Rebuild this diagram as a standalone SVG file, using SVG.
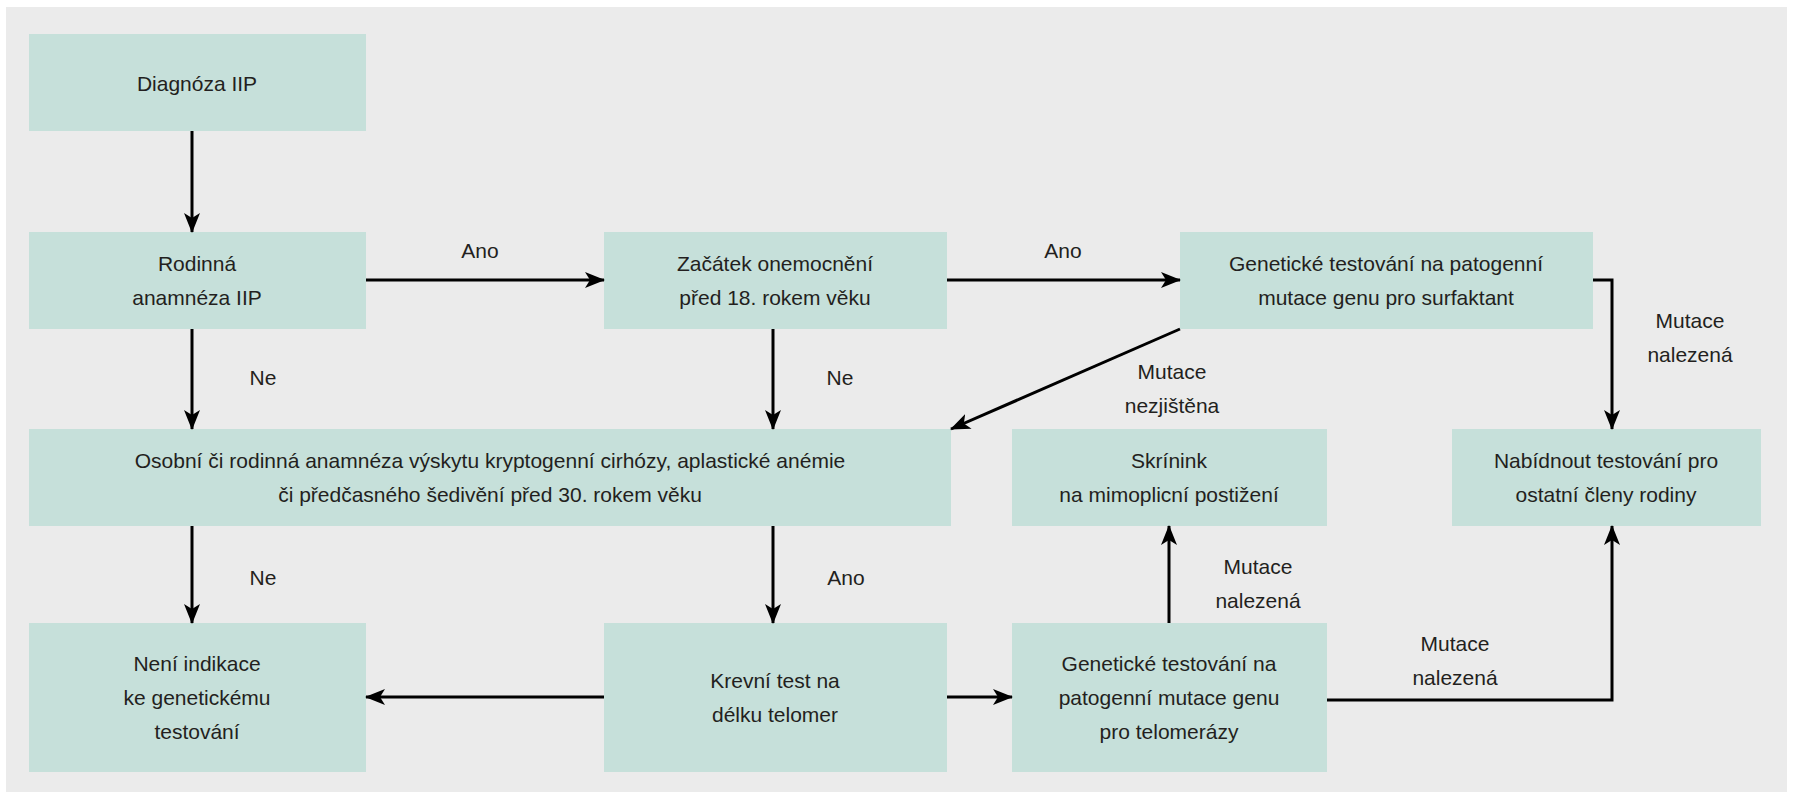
<svg xmlns="http://www.w3.org/2000/svg" width="1793" height="800" viewBox="0 0 1793 800">
<defs>
<style>
.b{fill:#c6e0da}
text{font-family:"Liberation Sans",Arial,sans-serif;font-size:21px;fill:#231f20;text-anchor:middle;dominant-baseline:central}
.c{stroke:#000;stroke-width:3;fill:none;marker-end:url(#a)}
</style>
<marker id="a" viewBox="0 0 20 16" refX="19" refY="8" markerWidth="20" markerHeight="16" markerUnits="userSpaceOnUse" orient="auto">
<path d="M0,0 L20,8 L0,16 L5,8 Z" fill="#000"/>
</marker>
</defs>
<rect width="1793" height="800" fill="#fff"/>
<rect x="6" y="7" width="1781" height="785" fill="#ebebeb"/>
<g id="n1"><rect class="b" x="29" y="34" width="337" height="97"/><text x="197" y="83">Diagnóza IIP</text></g>
<g id="n2"><rect class="b" x="29" y="232" width="337" height="97"/><text x="197" y="263">Rodinná</text><text x="197" y="297">anamnéza IIP</text></g>
<g id="n3"><rect class="b" x="604" y="232" width="343" height="97"/><text x="775" y="263">Začátek onemocnění</text><text x="775" y="297">před 18. rokem věku</text></g>
<g id="n4"><rect class="b" x="1180" y="232" width="413" height="97"/><text x="1386" y="263">Genetické testování na patogenní</text><text x="1386" y="297">mutace genu pro surfaktant</text></g>
<g id="n5"><rect class="b" x="29" y="429" width="922" height="97"/><text x="490" y="460">Osobní či rodinná anamnéza výskytu kryptogenní cirhózy, aplastické anémie</text><text x="490" y="494">či předčasného šedivění před 30. rokem věku</text></g>
<g id="n6"><rect class="b" x="1012" y="429" width="315" height="97"/><text x="1169" y="460">Skrínink</text><text x="1169" y="494">na mimoplicní postižení</text></g>
<g id="n7"><rect class="b" x="1452" y="429" width="309" height="97"/><text x="1606" y="460">Nabídnout testování pro</text><text x="1606" y="494">ostatní členy rodiny</text></g>
<g id="n8"><rect class="b" x="29" y="623" width="337" height="149"/><text x="197" y="663">Není indikace</text><text x="197" y="697">ke genetickému</text><text x="197" y="731">testování</text></g>
<g id="n9"><rect class="b" x="604" y="623" width="343" height="149"/><text x="775" y="680">Krevní test na</text><text x="775" y="714">délku telomer</text></g>
<g id="n10"><rect class="b" x="1012" y="623" width="315" height="149"/><text x="1169" y="663">Genetické testování na</text><text x="1169" y="697">patogenní mutace genu</text><text x="1169" y="731">pro telomerázy</text></g>
<g id="connectors">
<path class="c" d="M192,131 V232"/>
<path class="c" d="M366,280 H604"/>
<path class="c" d="M947,280 H1180"/>
<path class="c" d="M192,329 V429"/>
<path class="c" d="M773,329 V429"/>
<path class="c" d="M1180,329 L951,429"/>
<path class="c" d="M1593,280 H1612 V429"/>
<path class="c" d="M192,526 V623"/>
<path class="c" d="M773,526 V623"/>
<path class="c" d="M604,697 H366"/>
<path class="c" d="M947,697 H1012"/>
<path class="c" d="M1169,623 V526"/>
<path class="c" d="M1327,700 H1612 V526"/>
<text x="480" y="250">Ano</text>
<text x="1063" y="250">Ano</text>
<text x="263" y="377">Ne</text>
<text x="840" y="377">Ne</text>
<text x="1172" y="371">Mutace</text>
<text x="1172" y="405">nezjištěna</text>
<text x="1690" y="320">Mutace</text>
<text x="1690" y="354">nalezená</text>
<text x="263" y="577">Ne</text>
<text x="846" y="577">Ano</text>
<text x="1258" y="566">Mutace</text>
<text x="1258" y="600">nalezená</text>
<text x="1455" y="643">Mutace</text>
<text x="1455" y="677">nalezená</text>
</g>
</svg>
